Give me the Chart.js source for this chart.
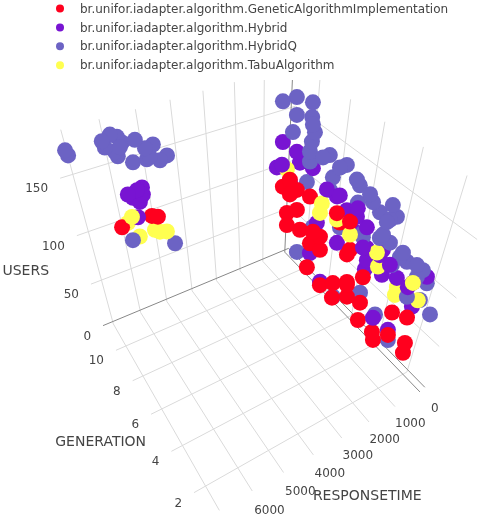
<!DOCTYPE html>
<html>
<head>
<meta charset="utf-8">
<title>Algorithm comparison 3D</title>
<script src="https://cdn.jsdelivr.net/npm/chart.js@4.4.1/dist/chart.umd.min.js"></script>
<style>
    html, body { margin: 0; padding: 0; background: #ffffff; overflow: hidden; }
    #scatter3d { display: block; }
</style>
</head>
<body>
<canvas id="scatter3d" width="491" height="525"></canvas>
<script>
/* global Chart */

// ---- Data ---------------------------------------------------------------
const seriesNames = [
    'br.unifor.iadapter.algorithm.GeneticAlgorithmImplementation',
    'br.unifor.iadapter.algorithm.Hybrid',
    'br.unifor.iadapter.algorithm.HybridQ',
    'br.unifor.iadapter.algorithm.TabuAlgorithm'
];
const seriesColors = ['#ff001e', '#7814d2', '#6c63c4', '#ffff50'];

// GeneticAlgorithmImplementation
const geneticGeneration = [9, 9, 9, 8, 8, 9, 8, 8, 8, 7, 7, 8, 7, 7, 6, 6, 5, 6, 5, 4, 4, 5, 5, 4, 4, 3, 3, 2, 1, 1, 1, 2, 6, 4, 5, 11, 10, 9];
const geneticUsers = [120, 116, 108, 122, 113, 89, 105, 94, 84, 95, 87, 65, 73, 60, 122, 112, 101, 76, 128, 89, 62, 74, 68, 76, 42, 47, 36, 88, 104, 76, 65, 64, 55, 89, 58, 102, 117, 129];
const geneticResponseTime = [1215, 1459, 934, 1687, 955, 1268, 1405, 1745, 1245, 1287, 1001, 808, 949, 1404, 1063, 908, 1040, 462, 1190, 1068, 999, 1510, 967, 1555, 952, 1026, 910, 1223, 1491, 1293, 1258, 1166, 1393, 1626, 1472, 6113, 5399, 5470];

// Hybrid
const hybridGeneration = [11, 10, 10, 11, 10, 9, 10, 7, 7, 6, 5, 8, 5, 6, 5, 4, 6, 8, 3, 5, 6, 5, 4, 5, 4, 4, 3, 2, 2, 2, 3, 3, 7, 2, 10, 10, 11, 10, 10, 11, 10];
const hybridUsers = [129, 129, 122, 107, 118, 123, 103, 130, 120, 121, 130, 84, 116, 99, 95, 104, 93, 54, 113, 73, 137, 137, 119, 82, 108, 82, 96, 107, 83, 108, 39, 64, 36, 109, 141, 142, 130, 137, 132, 124, 120];
const hybridResponseTime = [556, 503, 1042, 757, 361, 381, 712, 920, 519, 710, 967, 599, 535, 370, 391, 574, 923, 774, 897, 318, 1037, 981, 1260, 303, 495, 327, 509, 858, 478, 211, 355, 1110, 811, 704, 5958, 5691, 5319, 5552, 5669, 5633, 5800];

// HybridQ
const hybridQGeneration = [11, 11, 10, 11, 10, 11, 9, 9, 9, 9, 8, 8, 9, 7, 7, 8, 6, 6, 8, 5, 5, 6, 5, 4, 4, 4, 9, 7, 5, 4, 4, 3, 3, 2, 2, 10, 9, 4, 4, 5, 3, 3, 2, 2, 2, 2, 1, 4, 3, 5, 6,
    11, 11, 11, 11, 11, 11, 11, 11, 10, 11, 10, 11, 10, 10, 10, 10, 10, 10, 9, 11];
const hybridQUsers = [164, 164, 167, 149, 155, 135, 161, 154, 147, 139, 144, 144, 130, 145, 145, 123, 145, 139, 112, 145, 137, 124, 125, 146, 134, 134, 63, 88, 112, 123, 112, 119, 108, 125, 117, 22, 112, 133, 121, 108, 116, 112, 113, 101, 97, 86, 94, 38, 25, 48, 34,
    175, 171, 174, 177, 174, 169, 169, 164, 177, 160, 179, 152, 171, 172, 164, 159, 161, 102, 101, 151];
const hybridQResponseTime = [606, 104, 24, 69, 10, 188, 504, 409, 494, 539, 356, 597, 510, 536, 295, 153, 500, 362, 216, 625, 467, 335, 136, 468, 463, 226, 183, 251, 650, 612, 279, 506, 262, 735, 449, 257, 570, 559, 703, 623, 586, 820, 609, 139, 792, 222, 615, 257, 241, 346, 798,
    7107, 7068, 6158, 5918, 5749, 5647, 6115, 5878, 5926, 5826, 5514, 5448, 5288, 5064, 5193, 4932, 4720, 6067, 5090, 5048];

// TabuAlgorithm
const tabuGeneration = [10, 7, 8, 6, 4, 4, 3, 2, 1, 5, 3, 10, 11, 10, 9, 9, 10];
const tabuUsers = [116, 119, 93, 116, 108, 93, 86, 87, 136, 116, 78, 122, 104, 103, 116, 114, 104];
const tabuResponseTime = [846, 1053, 515, 1031, 705, 556, 419, 309, 1621, 1122, 420, 5966, 5919, 5851, 5478, 5279, 5378];

// Axis ticks
const generationTicks = [2, 4, 6, 8, 10];
const responseTimeTicks = [0, 1000, 2000, 3000, 4000, 5000, 6000, 7000];
const usersTicks = [0, 50, 100, 150];

// ---- Scene / camera -----------------------------------------------------
const RANGES = {
    generation: [0.9, 11.6],
    responseTime: [-169, 7345],
    users: [-3, 183.5]
};
const BOX_Z = 0.984;   // half height of the box (x/y span -1..1)

const CAMERA = {
    eye: [-2.578, 1.561, 2.933],
    yaw: 148.5,     // degrees, direction of the eye seen from the box
    pitch: 44.4,    // degrees, looking down
    focal: 569,
    cx: 258,
    cy: 277
};

const WIDTH = 491, HEIGHT = 525;

const yawRad = CAMERA.yaw * Math.PI / 180;
const pitchRad = CAMERA.pitch * Math.PI / 180;
const FWD = [-Math.cos(pitchRad) * Math.cos(yawRad), -Math.cos(pitchRad) * Math.sin(yawRad), -Math.sin(pitchRad)];
const RIGHT = [-Math.sin(yawRad), Math.cos(yawRad), 0];
const UP = [-Math.sin(pitchRad) * Math.cos(yawRad), -Math.sin(pitchRad) * Math.sin(yawRad), Math.cos(pitchRad)];

function norm(v, range) {
    return 2 * (v - range[0]) / (range[1] - range[0]) - 1;
}

/**
 * Data -> scene coordinates (gen on X, response time on Y, users on Z)
 */
function toScene(gen, rt, users) {
    return [
        norm(gen, RANGES.generation),
        norm(rt, RANGES.responseTime),
        norm(users, RANGES.users) * BOX_Z
    ];
}

/**
 * Perspective projection of a scene point to page coordinates
 */
function project(p) {
    const d = [p[0] - CAMERA.eye[0], p[1] - CAMERA.eye[1], p[2] - CAMERA.eye[2]];
    const xc = RIGHT[0] * d[0] + RIGHT[1] * d[1] + RIGHT[2] * d[2];
    const yc = UP[0] * d[0] + UP[1] * d[1] + UP[2] * d[2];
    const zc = FWD[0] * d[0] + FWD[1] * d[1] + FWD[2] * d[2];
    return {
        x: CAMERA.cx + CAMERA.focal * xc / zc,
        y: CAMERA.cy - CAMERA.focal * yc / zc,
        depth: zc
    };
}

// ---- Build the point list (far points first, like a depth buffer) -------
const seriesData = [
    [geneticGeneration, geneticResponseTime, geneticUsers],
    [hybridGeneration, hybridResponseTime, hybridUsers],
    [hybridQGeneration, hybridQResponseTime, hybridQUsers],
    [tabuGeneration, tabuResponseTime, tabuUsers]
];

const points = [];
seriesData.forEach(([gens, rts, users], s) => {
    gens.forEach((g, i) => {
        const pr = project(toScene(g, rts[i], users[i]));
        points.push({ x: pr.x, y: pr.y, depth: pr.depth, series: s });
    });
});
points.sort((a, b) => b.depth - a.depth);

// ---- Plugin: 3D box grid, tick labels, titles and legend ----------------
const GRID_COLOR = '#dadada';
const ZERO_COLOR = '#888888';
const TEXT_COLOR = '#444444';
const FONT = '"DejaVu Sans", Verdana, sans-serif';

const scenePlugin = {
    id: 'scene3d',

    toPx(chart, p) {
        return [chart.scales.x.getPixelForValue(p.x), chart.scales.y.getPixelForValue(p.y)];
    },

    segment(chart, a, b, color) {
        const ctx = chart.ctx;
        const pa = this.toPx(chart, project(a));
        const pb = this.toPx(chart, project(b));
        ctx.strokeStyle = color;
        ctx.beginPath();
        ctx.moveTo(pa[0], pa[1]);
        ctx.lineTo(pb[0], pb[1]);
        ctx.stroke();
    },

    beforeDatasetsDraw(chart) {
        const ctx = chart.ctx;
        const zLo = -BOX_Z, zHi = BOX_Z;
        const X = g => norm(g, RANGES.generation);
        const Y = r => norm(r, RANGES.responseTime);
        const Z = u => norm(u, RANGES.users) * BOX_Z;
        const zero = [];

        ctx.save();
        ctx.lineWidth = 1;

        // back wall at generation max
        responseTimeTicks.forEach(r => {
            const seg = [[1, Y(r), zLo], [1, Y(r), zHi]];
            r === 0 ? zero.push(seg) : this.segment(chart, seg[0], seg[1], GRID_COLOR);
        });
        usersTicks.forEach(u => {
            const seg = [[1, -1, Z(u)], [1, 1, Z(u)]];
            u === 0 ? zero.push(seg) : this.segment(chart, seg[0], seg[1], GRID_COLOR);
        });

        // back wall at response time min
        generationTicks.forEach(g => {
            this.segment(chart, [X(g), -1, zLo], [X(g), -1, zHi], GRID_COLOR);
        });
        usersTicks.forEach(u => {
            const seg = [[-1, -1, Z(u)], [1, -1, Z(u)]];
            u === 0 ? zero.push(seg) : this.segment(chart, seg[0], seg[1], GRID_COLOR);
        });

        // floor
        generationTicks.forEach(g => {
            this.segment(chart, [X(g), -1, zLo], [X(g), 1, zLo], GRID_COLOR);
        });
        responseTimeTicks.forEach(r => {
            const seg = [[-1, Y(r), zLo], [1, Y(r), zLo]];
            r === 0 ? zero.push(seg) : this.segment(chart, seg[0], seg[1], GRID_COLOR);
        });

        zero.forEach(seg => this.segment(chart, seg[0], seg[1], ZERO_COLOR));
        ctx.restore();
    },

    afterDatasetsDraw(chart) {
        const ctx = chart.ctx;
        const zLo = -BOX_Z;
        ctx.save();
        ctx.fillStyle = TEXT_COLOR;
        ctx.textBaseline = 'middle';

        // tick labels
        ctx.font = '12px ' + FONT;
        ctx.textAlign = 'right';
        usersTicks.forEach(u => {
            const p = this.toPx(chart, project(toScene(RANGES.generation[1], RANGES.responseTime[1], u)));
            ctx.fillText(String(u), p[0] - 12, p[1] + 11);
        });
        generationTicks.forEach(g => {
            const p = this.toPx(chart, project([norm(g, RANGES.generation), 1, zLo]));
            ctx.fillText(String(g), p[0] - 12, p[1] + 11);
        });
        ctx.textAlign = 'center';
        const rtBase = project([-1, norm(0, RANGES.responseTime), zLo]).depth;
        responseTimeTicks.forEach(r => {
            const pr = project([-1, norm(r, RANGES.responseTime), zLo]);
            const p = this.toPx(chart, pr);
            // the label offset grows as the edge comes closer to the eye
            const k = rtBase / pr.depth;
            ctx.fillText(String(r), p[0] + 15 * k, p[1] + 17 * k);
        });

        // axis titles
        ctx.font = '14px ' + FONT;
        const usersMid = this.toPx(chart, project([1, 1, 0]));
        ctx.fillText('USERS', usersMid[0] - 54, usersMid[1] + 26);
        const genMid = this.toPx(chart, project([0, 1, zLo]));
        ctx.fillText('GENERATION', genMid[0] - 48, genMid[1] + 32);
        const rtMid = this.toPx(chart, project([-1, 0, zLo]));
        ctx.fillText('RESPONSETIME', rtMid[0] + 42, rtMid[1] + 49);

        // legend (opaque box, as in the original)
        ctx.fillStyle = '#ffffff';
        ctx.fillRect(48, 0, 412, 80);
        ctx.font = '12px ' + FONT;
        ctx.textAlign = 'left';
        seriesNames.forEach((name, i) => {
            const y = 8.5 + i * 18.9;
            ctx.fillStyle = seriesColors[i];
            ctx.beginPath();
            ctx.arc(60, y, 4, 0, Math.PI * 2);
            ctx.fill();
            ctx.fillStyle = TEXT_COLOR;
            ctx.fillText(name, 80, y + 1);
        });
        ctx.restore();
    }
};

// ---- Chart --------------------------------------------------------------
const canvas = document.getElementById('scatter3d');
new Chart(canvas, {
    type: 'scatter',
    data: {
        datasets: [{
            label: 'points',
            data: points.map(p => ({ x: p.x, y: p.y })),
            backgroundColor: points.map(p => seriesColors[p.series]),
            borderWidth: 0,
            pointRadius: 8,
            pointHoverRadius: 8,
            clip: false
        }]
    },
    options: {
        responsive: false,
        animation: false,
        // the scales are page pixels, so the chart area must cover the whole canvas
        layout: { padding: 0, autoPadding: false },
        plugins: {
            legend: { display: false },
            tooltip: { enabled: false }
        },
        scales: {
            x: { type: 'linear', min: 0, max: WIDTH, display: false },
            y: { type: 'linear', min: 0, max: HEIGHT, reverse: true, display: false }
        }
    },
    plugins: [scenePlugin]
});
</script>
</body>
</html>
